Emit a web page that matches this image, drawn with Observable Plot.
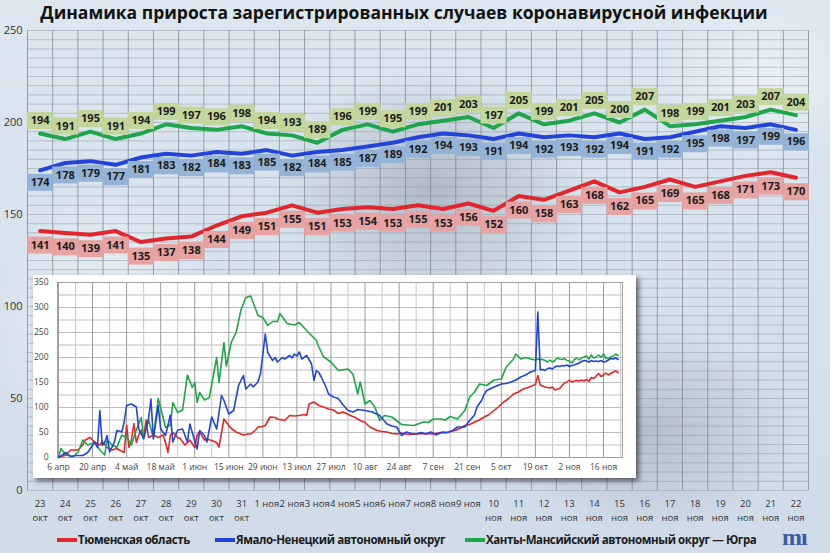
<!DOCTYPE html>
<html>
<head>
<meta charset="utf-8">
<script src="https://cdn.jsdelivr.net/npm/d3@7"></script>
<script src="https://cdn.jsdelivr.net/npm/@observablehq/plot@0.6"></script>
<style>
  body { margin: 0; }
  #card {
    position: relative; width: 830px; height: 553px; overflow: hidden;
    font-family: "Open Sans", sans-serif;
    background:
      radial-gradient(ellipse 230px 170px at 430px 190px, rgba(115,125,140,0.40), transparent 70%),
      radial-gradient(ellipse 210px 150px at 650px 430px, rgba(125,135,150,0.35), transparent 70%),
      radial-gradient(ellipse 170px 210px at 110px 330px, rgba(255,255,255,0.55), transparent 70%),
      radial-gradient(ellipse 150px 120px at 760px 80px, rgba(255,255,255,0.45), transparent 70%),
      linear-gradient(180deg, #dce7f0, #cfdce8);
  }
  #title {
    position: absolute; left: -11px; top: 0; width: 830px; text-align: center;
    font-size: 17.5px; font-weight: 700; color: #111;
  }
  #main { position: absolute; left: 0; top: 0; }
  #inset {
    position: absolute; left: 33px; top: 275px; width: 603px; height: 203px;
    background: #fff; box-shadow: 3px 3px 5px rgba(0,0,0,0.55);
  }
  .leg { position: absolute; top: 532px; font-size: 11.5px; font-weight: 700; color: #1a1a1a;
    white-space: nowrap; letter-spacing: -0.4px; }
  .leg i { display: inline-block; width: 20px; height: 4px; vertical-align: middle; margin-right: 1px; position: relative; top: -1px; }
  #logo { position: absolute; left: 782px; top: 526px; font-family: "Liberation Serif", serif; font-weight: 700;
    font-size: 24px; color: #3a5a9c; letter-spacing: -1px; line-height: 22px; }
</style>
</head>
<body>
<div id="card">
  <div id="main"></div>
  <div id="title">Динамика прироста зарегистрированных случаев коронавирусной инфекции</div>
  <div id="inset"></div>
  <div class="leg" style="left:57px"><i style="background:#e3262b"></i>Тюменская область</div>
  <div class="leg" style="left:215px"><i style="background:#2244d8"></i>Ямало-Ненецкий автономный округ</div>
  <div class="leg" style="left:465px"><i style="background:#1fa64a"></i>Ханты-Мансийский автономный округ — Югра</div>
  <div id="logo">mı</div>
</div>
<script>
// основной график: 23 окт - 22 ноя
const dayLabels = [
  "23\nокт","24\nокт","25\nокт","26\nокт","27\nокт","28\nокт","29\nокт","30\nокт","31\nокт",
  "1 ноя","2 ноя","3 ноя","4 ноя","5 ноя","6 ноя","7 ноя","8 ноя","9 ноя",
  "10\nноя","11\nноя","12\nноя","13\nноя","14\nноя","15\nноя","16\nноя","17\nноя",
  "18\nноя","19\nноя","20\nноя","21\nноя","22\nноя"
];
const tyumen = [141,140,139,141,135,137,138,144,149,151,155,151,153,154,153,155,153,156,152,160,158,163,168,162,165,169,165,168,171,173,170];
const yamal  = [174,178,179,177,181,183,182,184,183,185,182,184,185,187,189,192,194,193,191,194,192,193,192,194,191,192,195,198,197,199,196];
const hmao   = [194,191,195,191,194,199,197,196,198,194,193,189,196,199,195,199,201,203,197,205,199,201,205,200,207,198,199,201,203,207,204];

// врезка: [день от 6 апр, значение], до 22 окт; дальше — значения основного графика
const insetTicks = ["6 апр","20 апр","4 май","18 май","1 июн","15 июн","29 июн","13 июл","27 июл","10 авг","24 авг","7 сен","21 сен","5 окт","19 окт","2 ноя","16 ноя"];
const tyumenDaily = [[0,0],[2,3],[3,5],[5,15],[8,15],[10,25],[11,35],[13,40],[15,30],[17,25],[18,32],[20,20],[22,15],[24,18],[25,15],[27,10],[28,65],[29,20],[30,35],[31,68],[32,30],[33,45],[34,55],[35,40],[36,75],[37,40],[39,45],[41,40],[43,45],[44,30],[45,10],[46,45],[47,50],[49,40],[50,38],[52,25],[54,35],[56,20],[57,45],[58,51],[60,35],[61,37],[63,34],[65,30],[66,21],[68,77],[70,64],[71,58],[73,51],[76,45],[78,47],[79,47],[81,55],[82,61],[84,62],[85,64],[87,81],[89,80],[90,77],[93,74],[95,84],[97,83],[99,84],[101,86],[102,84],[103,107],[105,111],[107,104],[109,101],[111,97],[113,95],[115,88],[117,91],[120,84],[122,80],[124,74],[126,70],[128,61],[131,54],[133,52],[135,51],[137,48],[139,47],[141,49],[143,47],[145,46],[147,47],[150,48],[154,47],[157,50],[159,49],[161,52],[163,54],[165,58],[167,64],[169,66],[171,71],[173,75],[175,81],[177,86],[179,94],[181,102],[183,111],[185,118],[187,127],[189,131],[191,137],[193,140],[195,144],[196,146],[197,164],[198,145],[199,143]];
const yamalDaily = [[0,0],[1,3],[3,10],[5,2],[7,4],[10,4],[12,10],[13,17],[15,31],[16,20],[17,94],[18,24],[19,30],[20,44],[21,11],[23,31],[24,54],[26,51],[27,71],[28,104],[30,107],[32,101],[33,57],[35,37],[37,77],[38,117],[39,37],[41,104],[42,57],[44,44],[46,85],[47,31],[49,55],[51,57],[53,31],[54,67],[55,50],[57,17],[58,54],[60,44],[61,31],[63,81],[65,57],[67,124],[68,114],[70,87],[72,94],[74,144],[76,164],[77,137],[79,147],[80,141],[82,151],[83,167],[85,247],[86,210],[88,194],[89,200],[90,191],[92,200],[93,197],[95,204],[96,199],[97,207],[98,203],[99,211],[100,197],[102,204],[104,187],[105,154],[106,174],[107,170],[108,161],[110,140],[111,127],[113,121],[115,118],[117,105],[119,94],[121,91],[123,96],[126,94],[129,91],[132,84],[135,67],[137,63],[139,61],[141,44],[143,51],[145,48],[147,47],[149,50],[151,47],[153,51],[154,49],[155,45],[157,49],[158,51],[160,50],[162,54],[164,61],[167,61],[169,74],[171,85],[172,101],[174,115],[175,127],[176,134],[179,141],[182,147],[184,148],[186,151],[188,155],[190,161],[192,165],[194,171],[196,174],[197,291],[198,175],[199,176]];
const hmaoDaily = [[0,0],[1,18],[3,5],[6,2],[8,10],[10,35],[12,25],[15,30],[17,15],[19,5],[20,35],[22,25],[24,20],[26,45],[28,40],[30,25],[32,55],[34,80],[35,40],[37,75],[39,40],[41,118],[43,80],[44,60],[46,65],[47,110],[49,90],[51,95],[53,165],[55,140],[56,150],[57,110],[58,130],[60,115],[62,120],[65,200],[66,150],[68,230],[69,183],[71,230],[73,250],[75,295],[77,320],[79,323],[80,310],[82,284],[84,280],[86,264],[88,272],[90,272],[91,288],[94,268],[97,265],[99,270],[102,254],[106,234],[107,221],[109,201],[112,191],[115,174],[119,177],[121,167],[123,127],[124,151],[126,107],[128,114],[130,101],[132,74],[134,84],[137,81],[141,66],[146,64],[150,71],[152,70],[154,77],[157,77],[159,75],[161,82],[164,77],[167,94],[169,121],[171,131],[173,147],[176,144],[179,155],[182,157],[184,181],[187,197],[188,207],[190,197],[192,200],[194,197],[196,195],[197,197],[199,196]];

const colors = {tyumen: "#e3262b", yamal: "#2244d8", hmao: "#1fa64a"};
const firstMainDay = 200; // 23 окт от 6 апр

const toRows = vals => vals.map((v, i) => ({i, v}));
const boxSym = {draw(ctx) { ctx.rect(-13, -8.5, 26, 17); }};

function labelMarks(rows, dy, fill) {
  return [
    Plot.dot(rows, {x: "i", y: "v", dy, symbol: boxSym, fill, stroke: null}),
    Plot.text(rows, {x: "i", y: "v", dy, text: "v", fontWeight: "bold", fontSize: 11, fill: "#1b1b1b"})
  ];
}

const idx = d3.range(dayLabels.length);
const main = Plot.plot({
  width: 830, height: 530,
  marginTop: 30, marginBottom: 40, marginLeft: 27, marginRight: 22,
  style: {background: "transparent", fontFamily: "Open Sans", fontSize: "11px", color: "#333"},
  x: {domain: [-0.5, dayLabels.length - 0.5]},
  y: {domain: [0, 250]},
  marks: [
    Plot.ruleY(d3.range(0, 251, 5), {stroke: "#8d98a4", strokeOpacity: 0.5}),
    Plot.ruleX(d3.range(-0.5, dayLabels.length, 1), {stroke: "#7c8792", strokeOpacity: 0.75}),
    Plot.axisY({ticks: d3.range(0, 251, 50), tickSize: 0, tickPadding: 5, label: null}),
    Plot.axisX({ticks: idx, tickFormat: i => dayLabels[i], tickSize: 0, tickPadding: 7, lineHeight: 1.45,
      fontSize: 9.5, label: null}),
    Plot.lineY(toRows(tyumen), {x: "i", y: "v", stroke: colors.tyumen, strokeWidth: 4}),
    Plot.lineY(toRows(yamal), {x: "i", y: "v", stroke: colors.yamal, strokeWidth: 4}),
    Plot.lineY(toRows(hmao), {x: "i", y: "v", stroke: colors.hmao, strokeWidth: 4}),
    ...labelMarks(toRows(hmao), -13, "#c3d69b"),
    ...labelMarks(toRows(yamal), 12, "#95b3d7"),
    ...labelMarks(toRows(tyumen), 14, "#e6a3a1")
  ]
});
document.getElementById("main").appendChild(main);

// суточные ряды врезки + хвост из основного графика
const daily = (pts, tail) => pts.map(([d, v]) => ({d, v}))
  .concat(tail.map((v, i) => ({d: firstMainDay + i, v})));

const inset = Plot.plot({
  width: 603, height: 203,
  marginLeft: 24, marginRight: 14, marginTop: 7, marginBottom: 21,
  style: {background: "white", fontFamily: "Open Sans", fontSize: "8.5px", color: "#444"},
  x: {domain: [-0.4, 231.8]},
  y: {domain: [0, 350]},
  marks: [
    Plot.ruleY(d3.range(0, 351, 25), {stroke: "#bdbdbd"}),
    Plot.ruleX(d3.range(0, 232, 7), {stroke: d => d % 14 === 0 ? "#9c9c9c" : "#c8c8c8"}),
    Plot.frame({stroke: "#a0a0a0"}),
    Plot.axisY({ticks: d3.range(0, 351, 50), tickSize: 0, tickPadding: 9, label: null}),
    Plot.axisX({ticks: d3.range(0, 225, 14), tickFormat: d => insetTicks[d / 14], tickSize: 0, tickPadding: 6, label: null}),
    Plot.lineY(daily(tyumenDaily, tyumen), {x: "d", y: "v", stroke: colors.tyumen, strokeWidth: 1.6}),
    Plot.lineY(daily(hmaoDaily, hmao), {x: "d", y: "v", stroke: colors.hmao, strokeWidth: 1.6}),
    Plot.lineY(daily(yamalDaily, yamal), {x: "d", y: "v", stroke: colors.yamal, strokeWidth: 1.6})
  ]
});
document.getElementById("inset").appendChild(inset);
</script>
</body>
</html>
